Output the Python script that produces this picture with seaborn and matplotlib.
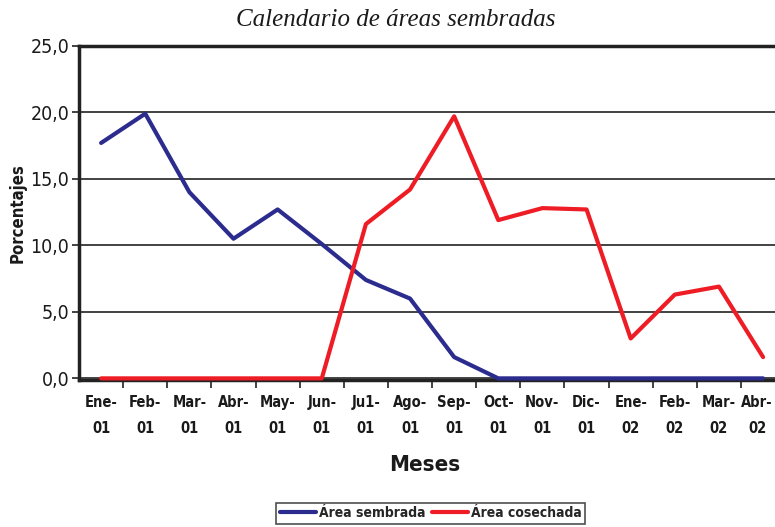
import numpy as np
import pandas as pd
import matplotlib
matplotlib.use("Agg")
import matplotlib.pyplot as plt
import matplotlib.transforms as mtransforms
import seaborn as sns
from matplotlib.ticker import FixedLocator
from matplotlib.lines import Line2D

# ---- data ----
months = ["Ene-\n01", "Feb-\n01", "Mar-\n01", "Abr-\n01", "May-\n01", "Jun-\n01",
          "Ju1-\n01", "Ago-\n01", "Sep-\n01", "Oct-\n01", "Nov-\n01", "Dic-\n01",
          "Ene-\n02", "Feb-\n02", "Mar-\n02", "Abr-\n02"]
area_sembrada = [17.7, 19.9, 14.0, 10.5, 12.7, 10.1, 7.4, 6.0, 1.6, 0.0, 0.0, 0.0, 0.0, 0.0, 0.0, 0.0]
area_cosechada = [0.0, 0.0, 0.0, 0.0, 0.0, 0.0, 11.6, 14.2, 19.7, 11.9, 12.8, 12.7, 3.0, 6.3, 6.9, 1.6]
series_names = ["Área sembrada", "Área cosechada"]
yticks = [0, 5, 10, 15, 20, 25]
ytick_labels = ["0,0", "5,0", "10,0", "15,0", "20,0", "25,0"]

df = pd.DataFrame({
    "pos": list(range(len(months))) * 2,
    "valor": area_sembrada + area_cosechada,
    "serie": [series_names[0]] * len(months) + [series_names[1]] * len(months),
})

sns.set_theme(style="white")
plt.rcParams["font.family"] = ["DejaVu Sans"]
plt.rcParams["font.stretch"] = "condensed"

fig = plt.figure(figsize=(7.75, 5.27), dpi=100)
ax = fig.add_axes([0.102, 0.279, 0.898, 0.634])

sns.lineplot(data=df, x="pos", y="valor", hue="serie", ax=ax,
             palette={series_names[0]: "#2B2C8E", series_names[1]: "#EE1D25"},
             linewidth=3, legend=False, zorder=5, clip_on=False)

ax.set_xlim(-0.5, 15.27)
ax.set_ylim(-0.12, 25)
ax.set_yticks(yticks)
ax.set_yticklabels(ytick_labels, fontsize=14, stretch="condensed")
ax.set_xticks(range(len(months)))
ax.set_xticklabels(months, fontsize=10.5, fontweight="bold", linespacing=1.9, stretch="condensed")
ax.xaxis.set_minor_locator(FixedLocator(np.arange(0.5, len(months) - 1, 1.0)))
ax.tick_params(axis="x", which="major", length=0, pad=11)
ax.tick_params(axis="x", which="minor", length=6, width=1.2, color="#222222", direction="out", bottom=True)
ax.tick_params(axis="y", which="major", length=5, width=1.2, color="#222222", direction="out", left=True, pad=2)
for lbl in ax.get_yticklabels():
    lbl.set_color("#1a1a1a")
for lbl in ax.get_xticklabels():
    lbl.set_color("#1a1a1a")
# nudge the last label so it stays inside the picture, as in the reference
last = ax.get_xticklabels()[-1]
last.set_transform(last.get_transform() + mtransforms.ScaledTranslation(-6 / 100, 0, fig.dpi_scale_trans))

ax.grid(axis="y", color="#222222", linewidth=1.2)
ax.grid(axis="x", visible=False)
for side in ["left", "bottom", "top"]:
    ax.spines[side].set_visible(True)
    ax.spines[side].set_color("#222222")
    ax.spines[side].set_linewidth(2.5)
ax.spines["right"].set_visible(False)

ax.set_xlabel("")
ax.set_ylabel("Porcentajes", fontsize=12, fontweight="bold", stretch="condensed", color="#1a1a1a")
ax.yaxis.set_label_coords(-0.076, 0.5)

fig.text(0.51, 0.962, "Calendario de áreas sembradas", ha="center", va="center",
         fontsize=18, style="italic", family=["Liberation Serif", "DejaVu Serif"], color="#1a1a1a")
fig.text(0.548, 0.118, "Meses", ha="center", va="center", fontsize=16, fontweight="bold",
         stretch="condensed", color="#1a1a1a")

handles = [Line2D([0], [0], color="#2B2C8E", lw=3), Line2D([0], [0], color="#EE1D25", lw=3)]
leg = fig.legend(handles, series_names, loc="center", bbox_to_anchor=(0.556, 0.0265), ncol=2,
                 frameon=True, fancybox=False, edgecolor="#222222", handlelength=2.6,
                 handletextpad=0.2, columnspacing=0.5, borderpad=0.25,
                 prop={"weight": "bold", "size": 10, "stretch": "condensed"})
leg.get_frame().set_linewidth(1.2)

fig.savefig("out.png", dpi=100)
